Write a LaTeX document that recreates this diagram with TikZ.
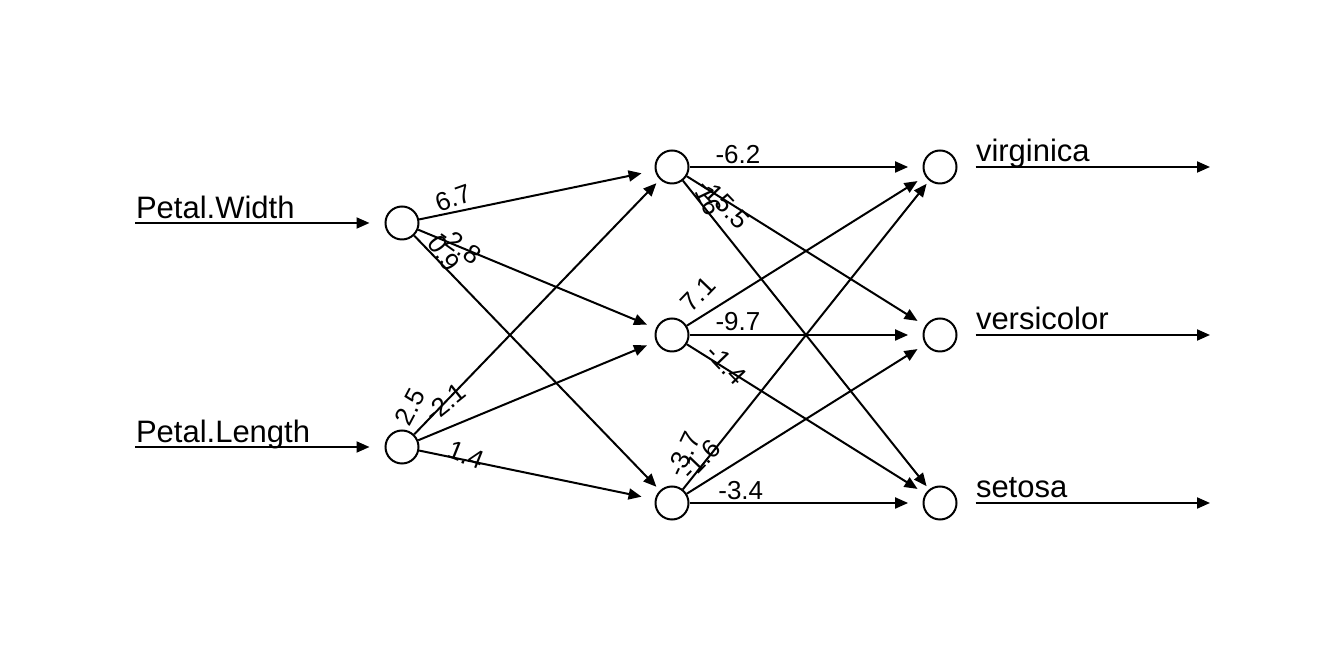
\documentclass[tikz,border=0pt]{standalone}
\usepackage{fontspec}
\setmainfont{Liberation Sans}
\usetikzlibrary{arrows.meta,positioning}

\begin{document}
\begin{tikzpicture}[x=0.5pt,y=-0.5pt,->,>={Triangle[length=6.5pt,width=5.5pt]},line width=1pt,node distance=84pt,on grid]
 \tikzstyle{neuron}=[circle,draw,minimum size=16.5pt,inner sep=0pt]
 \tikzstyle{wlabel}=[sloped,anchor=center,inner sep=0pt,font=\fontsize{13}{15}\selectfont]
 \tikzstyle{iolabel}=[anchor=base west,inner sep=0pt,font=\fontsize{15.5}{18}\selectfont]
 \useasboundingbox (0,0) rectangle (1344,672);

   % layers
   \node[neuron] (i1) at (402,223) {};
   \node[neuron] (i2) at (402,447) {};
   \node[neuron] (h2) at (672,335) {};
   \node[neuron] (h1) [above=of h2] {};
   \node[neuron] (h3) [below=of h2] {};
   \node[neuron] (o1) [right=134pt of h1] {};
   \node[neuron] (o2) [right=134pt of h2] {};
   \node[neuron] (o3) [right=134pt of h3] {};

   % inputs
   \coordinate (pwin) at (135,223);
   \coordinate (plin) at (135,447);
   \node[iolabel] (pw) at (135,219) {Petal.Width};
   \node[iolabel] (pl) at (135,443) {Petal.Length};
   \draw[shorten >=7.5pt] (pwin) -- (i1);
   \draw[shorten >=7.5pt] (plin) -- (i2);

   % outputs
   \coordinate (vout) at (1210,167);
   \coordinate (cout) at (1210,335);
   \coordinate (sout) at (1210,503);
   \node[iolabel] (vi) at (975,162) {virginica};
   \node[iolabel] (ve) at (975,330) {versicolor};
   \node[iolabel] (se) at (975,498) {setosa};
   \draw[shorten <=9pt] (o1) -- (vout);
   \draw[shorten <=9pt] (o2) -- (cout);
   \draw[shorten <=9pt] (o3) -- (sout);

   % input -> hidden
   \path
   (i1) edge[shorten >=6.8pt] node[wlabel,pos=0.156,yshift=7.15pt,rotate=8] {6.7} (h1)
   (i1) edge[shorten >=4.8pt] node[wlabel,pos=0.173,yshift=0.75pt,rotate=-13] {-2.8} (h2)
   (i1) edge[shorten >=2.5pt] node[wlabel,pos=0.094,yshift=4.7pt,rotate=-9] {0.9} (h3)
   (i2) edge[shorten >=2.5pt] node[wlabel,pos=0.048,yshift=11pt,rotate=16] {2.5} (h1)
   (i2) edge[shorten >=4.8pt] node[wlabel,pos=0.153,yshift=12.3pt,rotate=16] {-2.1} (h2)
   (i2) edge[shorten >=6.8pt] node[wlabel,pos=0.194,yshift=2.5pt,rotate=-10] {1.4} (h3);

   % hidden -> output
   \path
   (h1) edge[shorten >=7.2pt] node[wlabel,pos=0.208,yshift=6pt] {-6.2} (o1)
   (h1) edge[shorten >=4.5pt] node[wlabel,pos=0.163,yshift=-1.7pt,rotate=-14] {-15.5} (o2)
   (h1) edge[shorten >=2pt] node[wlabel,pos=0.081,yshift=3.8pt,rotate=-13] {16} (o3)
   (h2) edge[shorten >=4.5pt] node[wlabel,pos=0.093,yshift=10.3pt,rotate=14] {7.1} (o1)
   (h2) edge[shorten >=7.2pt] node[wlabel,pos=0.208,yshift=6.5pt] {-9.7} (o2)
   (h2) edge[shorten >=4.5pt] node[wlabel,pos=0.159,yshift=2pt,rotate=-14] {-1.4} (o3)
   (h3) edge[shorten >=2pt] node[wlabel,pos=0.071,yshift=10.7pt,rotate=13] {-3.7} (o1)
   (h3) edge[shorten >=4.5pt] node[wlabel,pos=0.107,yshift=10.7pt,rotate=14] {-1.6} (o2)
   (h3) edge[shorten >=7.2pt] node[wlabel,pos=0.22,yshift=6pt] {-3.4} (o3);

\end{tikzpicture}
\end{document}
